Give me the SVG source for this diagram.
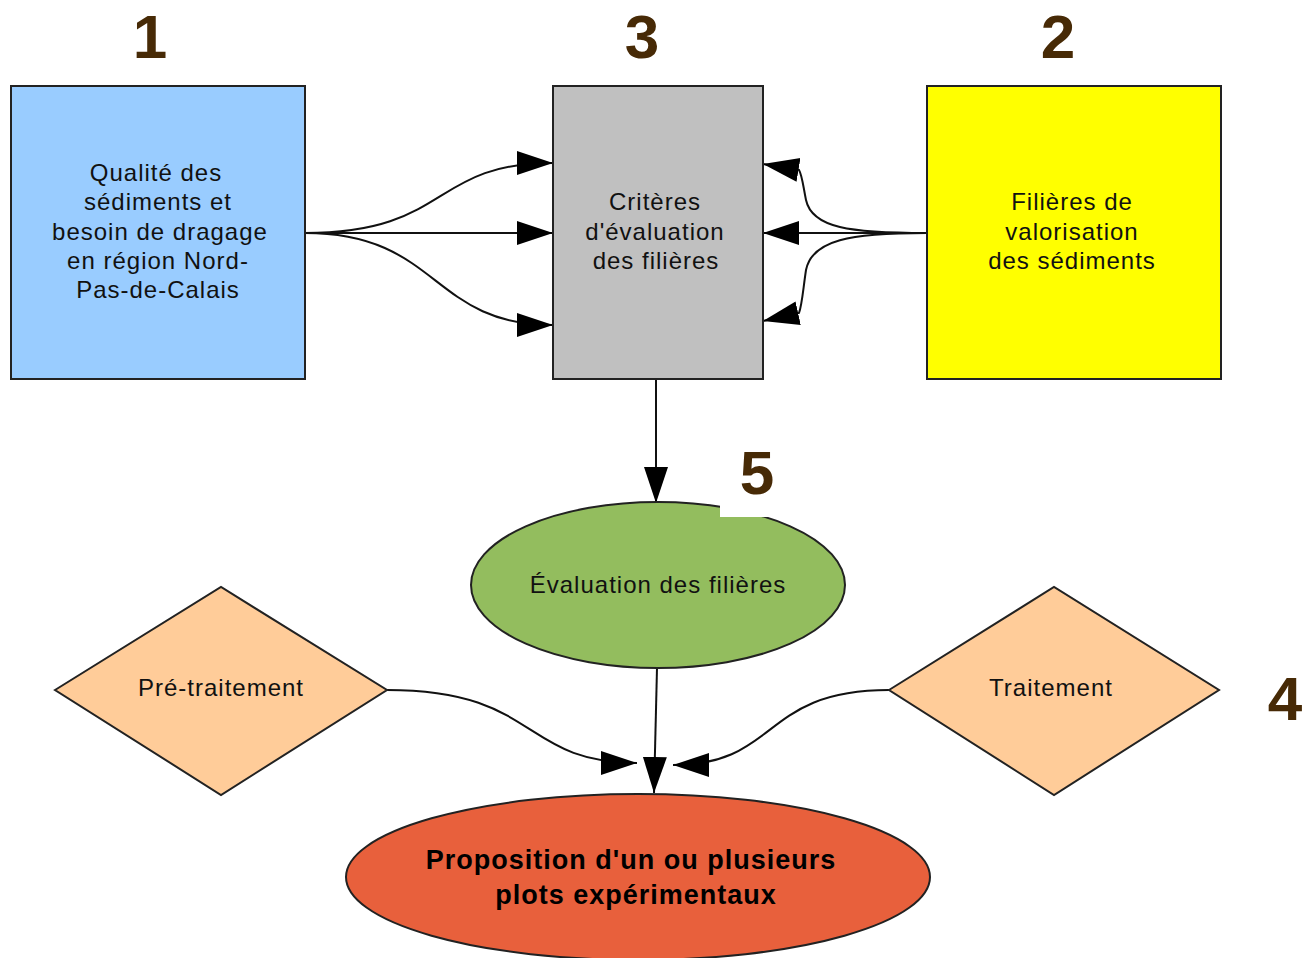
<svg xmlns="http://www.w3.org/2000/svg" width="1303" height="958" viewBox="0 0 1303 958">
<defs>
<marker id="ah" markerUnits="userSpaceOnUse" markerWidth="40" markerHeight="30" refX="36" refY="12" orient="auto">
<path d="M0,0 L36,12 L0,24 Z" fill="#000"/>
</marker>
<style>
.box{stroke:#222;stroke-width:2}
.lbl{font-family:"Liberation Sans",Arial,sans-serif;font-size:24px;letter-spacing:1px;fill:#111;text-anchor:middle}
.num{font-family:"Liberation Sans",Arial,sans-serif;font-size:62px;font-weight:bold;fill:#472a06;text-anchor:middle}
.big{font-family:"Liberation Sans Narrow","Liberation Sans",Arial,sans-serif;font-size:27px;letter-spacing:1px;font-weight:bold;fill:#000;text-anchor:middle}
.c{fill:none;stroke:#111;stroke-width:2;marker-end:url(#ah)}
</style>
</defs>
<rect width="1303" height="958" fill="#fff"/>
<g id="connectors">
<path class="c" d="M305,233 C450,233 430,163 553,163"/>
<path class="c" d="M305,233 L553,233"/>
<path class="c" d="M305,233 C440,233 430,325 553,325"/>
<path class="c" d="M927,233 C850,233 812,228 806,200 C803,185 802,175 799,170 L763,164"/>
<path class="c" d="M927,233 L763,233"/>
<path class="c" d="M927,233 C850,233 812,240 806,270 C803,290 802,305 799,313 L763,321"/>
<path class="c" d="M656,379 L656,503"/>
<path class="c" d="M657,668 L654,793"/>
<path class="c" d="M387,690 C540,690 520,763 637,763"/>
<path class="c" d="M889,690 C760,690 780,765 673,765"/>
</g>
<g id="n1">
<rect class="box" x="11" y="86" width="294" height="293" fill="#99ccff"/>
<text class="lbl" x="156" y="181">Qualité des</text>
<text class="lbl" x="158" y="210">sédiments et</text>
<text class="lbl" x="160" y="240">besoin de dragage</text>
<text class="lbl" x="158" y="269">en région Nord-</text>
<text class="lbl" x="158" y="298">Pas-de-Calais</text>
</g>
<g id="n3">
<rect class="box" x="553" y="86" width="210" height="293" fill="#c0c0c0"/>
<text class="lbl" x="655" y="210">Critères</text>
<text class="lbl" x="655" y="240">d'évaluation</text>
<text class="lbl" x="656" y="269">des filières</text>
</g>
<g id="n2">
<rect class="box" x="927" y="86" width="294" height="293" fill="#ffff00"/>
<text class="lbl" x="1072" y="210">Filières de</text>
<text class="lbl" x="1072" y="240">valorisation</text>
<text class="lbl" x="1072" y="269">des sédiments</text>
</g>
<g id="n5">
<ellipse class="box" cx="658" cy="585" rx="187" ry="83" fill="#93bd5e"/>
<rect x="720" y="495" width="52" height="22" fill="#fff"/>
<text class="lbl" x="658" y="593">Évaluation des filières</text>
</g>
<g id="pre">
<polygon class="box" points="55,690 221,587 387,690 221,795" fill="#ffcc99" stroke-width="1.5"/>
<text class="lbl" x="221" y="696">Pré-traitement</text>
</g>
<g id="trait">
<polygon class="box" points="889,690 1054,587 1219,690 1054,795" fill="#ffcc99" stroke-width="1.5"/>
<text class="lbl" x="1051" y="696">Traitement</text>
</g>
<g id="prop">
<ellipse class="box" cx="638" cy="877" rx="292" ry="83" fill="#e8603c"/>
<text class="big" x="631" y="869">Proposition d'un ou plusieurs</text>
<text class="big" x="636" y="904">plots expérimentaux</text>
</g>
<g id="numbers">
<text class="num" x="150" y="58">1</text>
<text class="num" x="642" y="58">3</text>
<text class="num" x="1058" y="58">2</text>
<text class="num" x="757" y="494">5</text>
<text class="num" x="1285" y="720">4</text>
</g>
</svg>
